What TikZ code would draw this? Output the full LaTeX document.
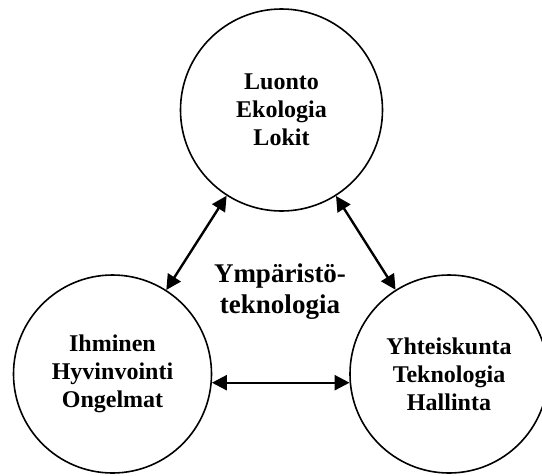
\documentclass[tikz,border=0pt]{standalone}
\usepackage{fontspec}
\setmainfont{Liberation Serif}
\usetikzlibrary{arrows.meta}

\begin{document}
\begin{tikzpicture}[
    x=1pt, y=-1pt,
    topic/.style={circle, draw, line width=1.6pt, minimum size=198pt, inner sep=0pt, align=center, font=\fontsize{24}{28}\selectfont\bfseries},
    label/.style={align=center, font=\fontsize{27}{31}\selectfont\bfseries},
    arrow/.style={line width=2.4pt, {Triangle[length=15pt,width=15pt]}-{Triangle[length=15pt,width=15pt]}}
]
\useasboundingbox (0,0) rectangle (542,475);

% Circles
\node[topic, minimum size=202pt] (nature) at (281.5,110) {Luonto\\Ekologia\\Lokit};
\node[topic] (human) at (112.5,374) {Ihminen\\Hyvinvointi\\Ongelmat};
\node[topic] (society) at (449,374) {Yhteiskunta\\Teknologia\\Hallinta};

% Centre
\node[label] (field) at (280,292) {Ympäristö-\\teknologia};

% Arrows
\draw[arrow] (human) -- (nature);
\draw[arrow] (society) -- (nature);
\draw[arrow] (human.-5) -- (society.185);

\end{tikzpicture}
\end{document}
